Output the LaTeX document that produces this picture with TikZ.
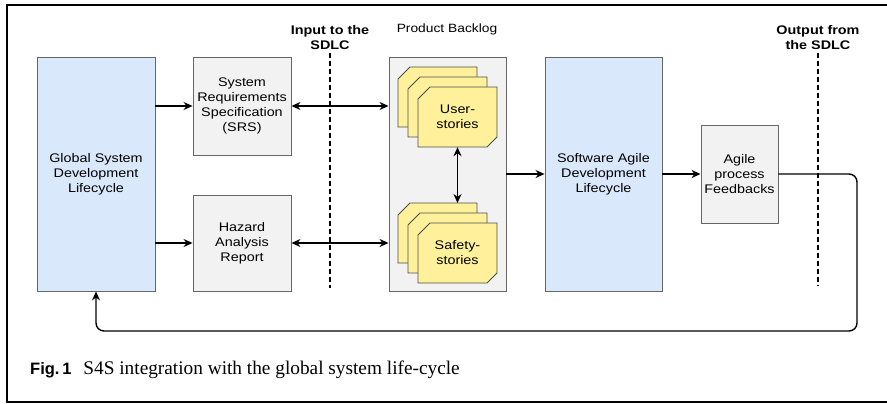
\documentclass[tikz,border=0pt]{standalone}
\usepackage{fontspec}
\setmainfont{Liberation Sans}[FakeStretch=1.15]
\newfontfamily\capserif{Liberation Serif}
\newfontfamily\capsans{Liberation Sans}
\usetikzlibrary{arrows.meta}

\definecolor{blueF}{HTML}{DAE8FC}
\definecolor{greyF}{HTML}{F2F2F2}
\definecolor{boxline}{HTML}{666666}
\definecolor{cardF}{HTML}{FFF19C}
\definecolor{cardline}{HTML}{4D4D4D}

\newcommand\diag{\fontsize{12.5}{15}\selectfont}
% chamfered story card, top-left corner given
\newcommand\storycard[1]{%
  \draw[card] #1 ++(0,12) -- ++(12,-12) -- ++(67,0) -- ++(0,50) -- ++(-10,10) -- ++(-69,0) -- cycle;}

\tikzset{
  box/.style={draw=boxline, line width=0.9pt, align=center, font=\diag, inner sep=0pt},
  bluebox/.style={box, fill=blueF},
  greybox/.style={box, fill=greyF},
  card/.style={draw=cardline, line width=0.9pt, fill=cardF},
  cardtext/.style={align=center, font=\diag, inner sep=0pt, minimum width=79pt, minimum height=60pt},
  label/.style={align=center, font=\diag\bfseries, inner sep=0pt},
  arr/.style={line width=1.4pt, -{Stealth[length=9pt,width=8pt]}},
  darr/.style={line width=1.4pt, {Stealth[length=9pt,width=8pt]}-{Stealth[length=9pt,width=8pt]}},
  sdlc/.style={line width=2pt, dash pattern=on 5pt off 3pt},
}

\begin{document}
\begin{tikzpicture}[x=1pt, y=-1pt]
\useasboundingbox (0,0) rectangle (887,404);
\fill[white] (0,0) rectangle (887,404);
% frame around figure and caption
\draw[line width=2pt] (887,5) -- (7,5) -- (7,402) -- (887,402);

% main blocks
\node[bluebox, minimum width=118pt, minimum height=234pt] (gsdl) at (96,174)
  {Global System\\Development\\Lifecycle};
\node[greybox, minimum width=98pt, minimum height=98pt] (srs) at (242,106)
  {System\\Requirements\\Specification\\(SRS)};
\node[greybox, minimum width=98pt, minimum height=96pt] (hazard) at (242,243)
  {Hazard\\Analysis\\Report};
\node[greybox, minimum width=117pt, minimum height=234pt] (backlog) at (447.5,174) {};
\node[bluebox, minimum width=117pt, minimum height=234pt] (sad) at (603.5,174)
  {Software Agile\\Development\\Lifecycle};
\node[greybox, minimum width=77pt, minimum height=98pt] (feedback) at (739.5,174)
  {Agile\\process\\Feedbacks};

% labels above
\node[font=\fontsize{12}{14}\selectfont, inner sep=0pt] (pblab) at (447,29) {Product Backlog};
\node[label] (inlab) at (330,38) {Input to the\\SDLC};
\node[label] (outlab) at (818,38) {Output from\\the SDLC};

% story card stacks
\storycard{(398,67)}
\storycard{(408,77)}
\storycard{(418,87)}
\node[cardtext] (ustory) at (457.5,117) {User-\\stories};
\storycard{(398,203)}
\storycard{(408,213)}
\storycard{(418,223)}
\node[cardtext] (sstory) at (457.5,253) {Safety-\\stories};
% top edge of the back safety card
\coordinate (sstack) at (457.5,203);

% SDLC boundaries
\coordinate (inbot) at (330,288);
\coordinate (outbot) at (818,286);
\draw[sdlc] (inlab.south) ++(0,3) -- (inbot);
\draw[sdlc] (outlab.south) ++(0,3) -- (outbot);

% connectors
\draw[arr] (gsdl.east |- srs.west) -- (srs.west);
\draw[arr] (gsdl.east |- hazard.west) -- (hazard.west);
\draw[darr] (srs.east) -- (srs.east -| backlog.west);
\draw[darr] (hazard.east) -- (hazard.east -| backlog.west);
\draw[darr] (ustory.south) -- (sstack);
\draw[arr] (backlog.east) -- (sad.west);
\draw[arr] (sad.east) -- (feedback.west);
\coordinate (loopcorner) at (857,331);
\draw[arr, rounded corners=8pt] (feedback.east) -| (loopcorner) -| (gsdl.south);

% caption
\node[anchor=base west, inner sep=0pt] (caption) at (30,374)
  {{\capsans\bfseries\fontsize{16.5}{18}\selectfont Fig.\,1}\hspace{12pt}{\capserif\fontsize{19.3}{22}\selectfont S4S integration with the global system life-cycle}};
\end{tikzpicture}
\end{document}
